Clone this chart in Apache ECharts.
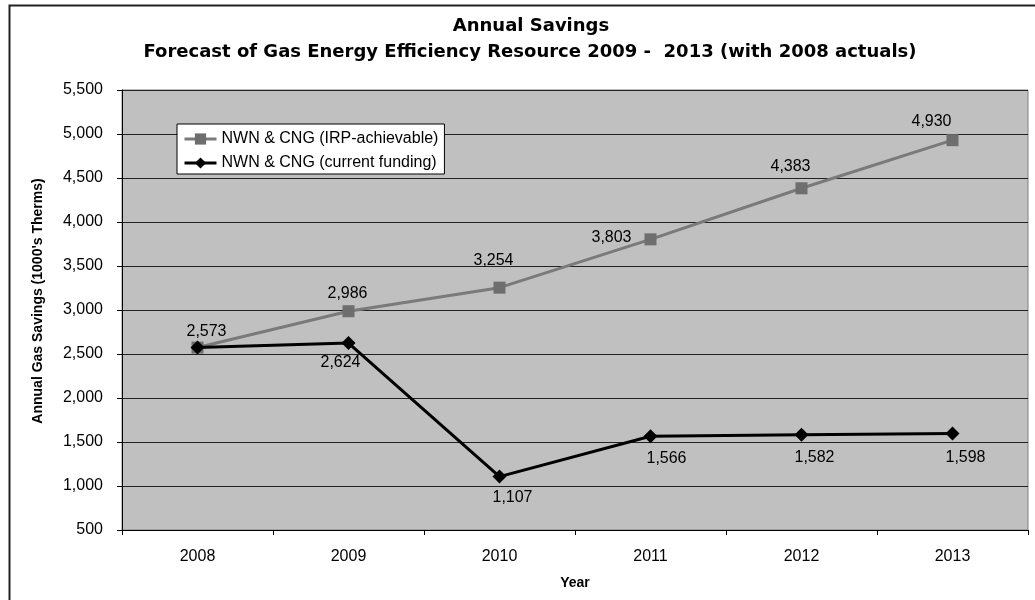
<!DOCTYPE html>
<html>
<head>
<meta charset="utf-8">
<script src="https://cdn.jsdelivr.net/npm/echarts@6/dist/echarts.min.js"></script>
<style>
html,body{margin:0;padding:0;background:#fff;}
#chart{width:1035px;height:600px;}
</style>
</head>
<body>
<div id="chart"></div>
<script>
// ---- data ----
const years = ['2008', '2009', '2010', '2011', '2012', '2013'];
const irpAchievable = [2573, 2986, 3254, 3803, 4383, 4930];
const currentFunding = [2573, 2624, 1107, 1566, 1582, 1598];
const seriesNames = ['NWN & CNG (IRP-achievable)', 'NWN & CNG (current funding)'];
const titleLines = ['Annual Savings', 'Forecast of Gas Energy Efficiency Resource 2009 -  2013 (with 2008 actuals)'];
const yAxisTitle = "Annual Gas Savings (1000's Therms)";
const xAxisTitle = 'Year';

// ---- label placement (style only) ----
const irpLabelOffsets = [[9, -16], [-1, -18], [-6, -27], [-39, -2], [-11, -22], [-21, -19]];
const curLabelOffsets = [null, [-8, 20], [13, 21], [16, 22], [13, 23], [13, 24]];

const FONT = "'Liberation Sans', Arial, sans-serif";
const TITLE_FONT = "'DejaVu Sans', 'Liberation Sans', Arial, sans-serif";
const fmt = v => Number(v).toLocaleString('en-US');

function withLabels(values, offsets) {
  return values.map((v, i) => {
    const off = offsets[i];
    if (!off) return { value: v, label: { show: false } };
    return { value: v, label: { offset: off } };
  });
}

const chart = echarts.init(document.getElementById('chart'));
chart.setOption({
  animation: false,
  textStyle: { fontFamily: FONT },
  title: [
    { text: titleLines[0], left: 526, top: 12, textAlign: 'center',
      textStyle: { fontFamily: TITLE_FONT, fontSize: 18, fontWeight: 'bold', color: '#000' } },
    { text: titleLines[1], left: 525, top: 38, textAlign: 'center',
      textStyle: { fontFamily: TITLE_FONT, fontSize: 18, fontWeight: 'bold', color: '#000' } }
  ],
  legend: {
    orient: 'vertical',
    left: 177, top: 124,
    padding: [7, 6, 3, 6],
    itemWidth: 32, itemHeight: 14, itemGap: 8,
    backgroundColor: '#fff',
    borderColor: '#000', borderWidth: 1, borderRadius: 0,
    lineStyle: { width: 3 },
    textStyle: { fontFamily: FONT, fontSize: 16, color: '#000' },
    data: seriesNames
  },
  grid: {
    left: 122, right: 7, top: 90, height: 440,
    show: true, backgroundColor: '#c0c0c0', borderColor: '#808080', borderWidth: 1
  },
  xAxis: {
    type: 'category',
    data: years,
    boundaryGap: true,
    name: xAxisTitle,
    nameLocation: 'middle',
    nameGap: 46,
    nameTextStyle: { fontFamily: FONT, fontSize: 14, fontWeight: 'bold', color: '#000' },
    axisLine: { show: true, lineStyle: { color: '#000', width: 1 } },
    axisTick: { show: true, alignWithLabel: false, length: 5, lineStyle: { color: '#000' } },
    axisLabel: { margin: 19, fontFamily: FONT, fontSize: 16, color: '#000' },
    splitLine: { show: false }
  },
  yAxis: {
    type: 'value',
    min: 500, max: 5500, interval: 500,
    axisLine: { show: true, lineStyle: { color: '#000', width: 1 } },
    axisTick: { show: true, length: 5, lineStyle: { color: '#000' } },
    axisLabel: { margin: 19, fontFamily: FONT, fontSize: 16, color: '#000', formatter: fmt },
    splitLine: { show: true, lineStyle: { color: '#222', width: 1 } }
  },
  graphic: [
    { type: 'rect', left: 7, top: 3, shape: { width: 1050, height: 620 }, silent: true,
      style: { fill: 'none', stroke: '#222', lineWidth: 2 }, z: -10 },
    { type: 'text', x: 38, y: 301, rotation: Math.PI / 2,
      style: { text: yAxisTitle, fontFamily: FONT, fontSize: 14, fontWeight: 'bold', fill: '#000',
               textAlign: 'center', textVerticalAlign: 'middle' } }
  ],
  series: [
    {
      name: seriesNames[0],
      type: 'line',
      data: withLabels(irpAchievable, irpLabelOffsets),
      symbol: 'rect', symbolSize: 12,
      itemStyle: { color: '#6e6e6e' },
      lineStyle: { color: '#7a7a7a', width: 3 },
      label: { show: true, position: 'inside', fontFamily: FONT, fontSize: 16, color: '#000', formatter: p => fmt(p.value) },
      z: 2
    },
    {
      name: seriesNames[1],
      type: 'line',
      data: withLabels(currentFunding, curLabelOffsets),
      symbol: 'diamond', symbolSize: 14,
      itemStyle: { color: '#000' },
      lineStyle: { color: '#000', width: 3 },
      label: { show: true, position: 'inside', fontFamily: FONT, fontSize: 16, color: '#000', formatter: p => fmt(p.value) },
      z: 3
    }
  ]
});
</script>
</body>
</html>
